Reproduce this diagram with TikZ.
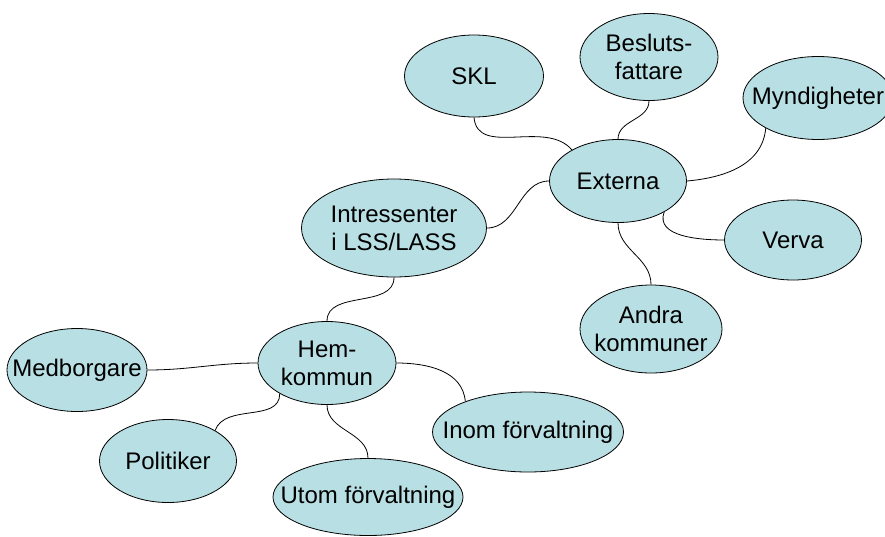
\documentclass[tikz,border=0pt]{standalone}
\usepackage{fontspec}
\setmainfont{Liberation Sans}
\usepackage{tikz}
\usetikzlibrary{shapes.geometric}
\definecolor{colorbubble}{RGB}{184,223,227}
\definecolor{colortext}  {RGB}{0  ,0  ,0  }

\begin{document}
\begin{tikzpicture}[
    x=1pt, y=-1pt,
    font={\fontsize{24}{28}\selectfont},
    bubble/.style={ellipse,draw,fill=colorbubble,text=colortext,align=center,
        inner xsep=-40pt,inner ysep=0pt,line width=0.8pt},
    link/.style={line width=0.8pt},
]
    \useasboundingbox (0,0) rectangle (885,536);

    % outer ring
    \node[bubble,minimum width=139,minimum height=82] (skl)   at (474,76)  {SKL};
    \node[bubble,minimum width=138,minimum height=87] (besl)  at (649,57)  {Besluts-\\fattare};
    \node[bubble,minimum width=150,minimum height=83] (mynd)  at (818,98)  {Myndigheter};
    \node[bubble,minimum width=137,minimum height=83] (ext)   at (618,181) {Externa};
    \node[bubble,minimum width=137,minimum height=80] (verva) at (793,240) {Verva};
    \node[bubble,minimum width=142,minimum height=88] (andra) at (651,329) {Andra\\kommuner};
    \node[bubble,minimum width=185,minimum height=98] (intr)  at (394,228) {Intressenter\\i LSS/LASS};
    \node[bubble,minimum width=138,minimum height=83] (hem)   at (327,363) {Hem-\\kommun};
    \node[bubble,minimum width=140,minimum height=83] (medb)  at (77,370)  {Medborgare};
    \node[bubble,minimum width=137,minimum height=83] (polit) at (168,461) {Politiker};
    \node[bubble,minimum width=190,minimum height=77] (utom)  at (368,497) {Utom förvaltning};
    \node[bubble,minimum width=191,minimum height=80] (inom)  at (528,432) {Inom förvaltning};

    % connectors
    \draw[link] (skl.270)  to[out=-85,in=130] (ext.146);
    \draw[link] (besl.270) to[out=-90,in=90]  (ext.90);
    \draw[link] (mynd.210) to[out=-95,in=5]   (ext.0);
    \draw[link] (intr.0)   to[out=0,in=180]   (ext.180);
    \draw[link] (ext.326)  to[out=-110,in=180] (verva.180);
    \draw[link] (ext.270)  to[out=-90,in=90]  (andra.90);
    \draw[link] (intr.270) to[out=-90,in=90]  (hem.90);
    \draw[link] (hem.180)  to[out=180,in=0]   (medb.0);
    \draw[link] (hem.213)  to[out=-90,in=70]  (polit.33);
    \draw[link] (hem.270)  to[out=-90,in=90]  (utom.90);
    \draw[link] (hem.0)    to[out=0,in=95]    (inom.154);

\end{tikzpicture}
\end{document}
